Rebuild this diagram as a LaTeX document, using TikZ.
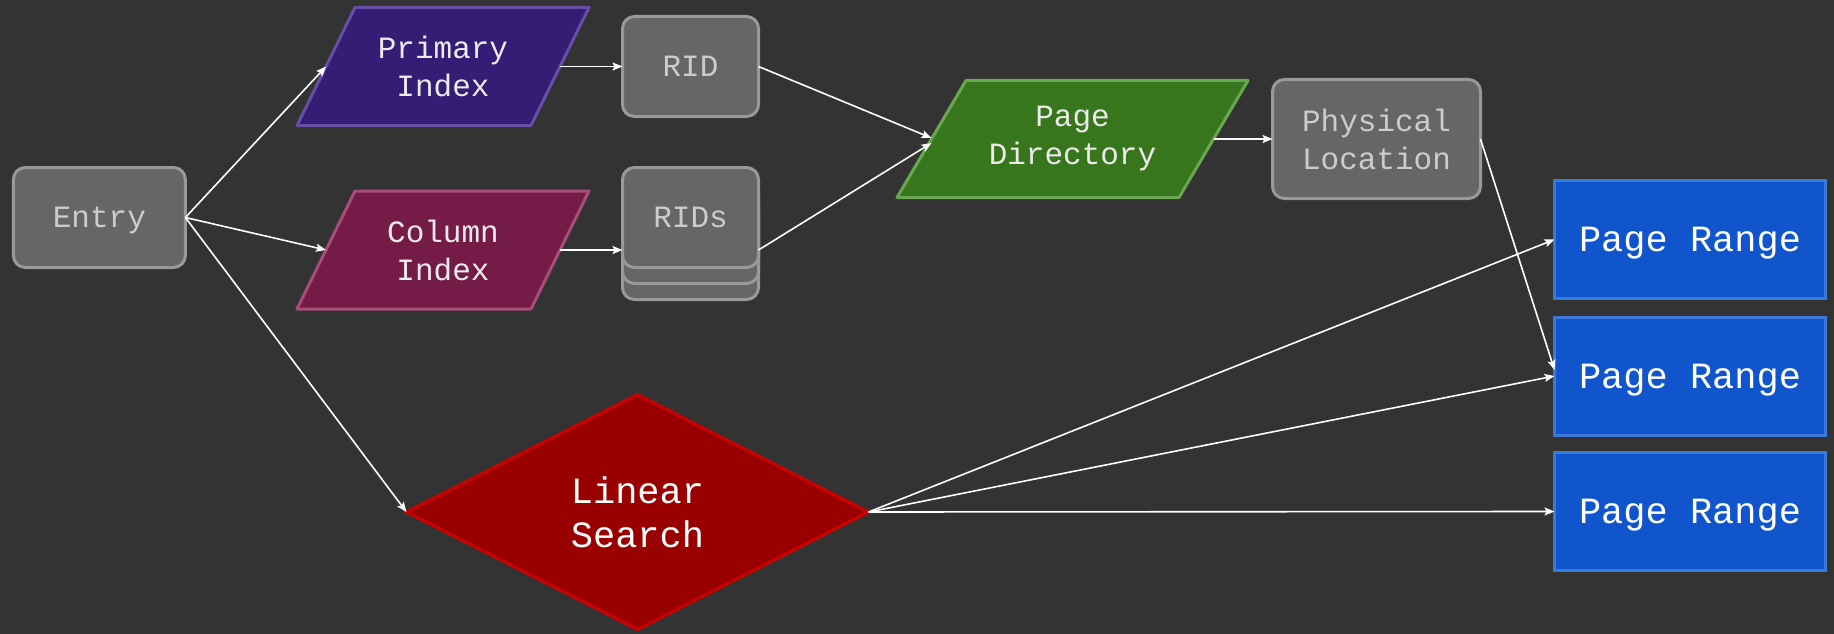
\documentclass[tikz,border=0pt]{standalone}
\usepackage{fontspec}
\setmonofont{Liberation Mono}
\usetikzlibrary{shapes.geometric,arrows.meta}
\definecolor{bg}{HTML}{333333}
\definecolor{boxgrey}{HTML}{666666}
\definecolor{edgegrey}{HTML}{999999}
\definecolor{textgrey}{HTML}{CCCCCC}
\definecolor{primfill}{HTML}{351C75}
\definecolor{primedge}{HTML}{674EA7}
\definecolor{colfill}{HTML}{741B47}
\definecolor{coledge}{HTML}{A64D79}
\definecolor{dirfill}{HTML}{38761D}
\definecolor{diredge}{HTML}{6AA84F}
\definecolor{searchfill}{HTML}{990000}
\definecolor{searchedge}{HTML}{CC0000}
\definecolor{rangefill}{HTML}{1155CC}
\definecolor{rangeedge}{HTML}{3C78D8}
\pgfdeclarelayer{back}
\pgfdeclarelayer{shapes}
\pgfsetlayers{back,shapes,main}
\begin{document}
\begin{tikzpicture}[x=1pt,y=-1pt,
  base/.style={line width=3pt, inner sep=0pt, outer sep=0pt, align=center,
    font=\ttfamily\fontsize{31}{38}\selectfont},
  greybox/.style={base, rectangle, rounded corners=12pt, fill=boxgrey, draw=edgegrey, text=textgrey},
  paratext/.style={base, rectangle, text=white!92!black},
  paraline/.style={line width=3pt, line join=round},
  rangebox/.style={base, rectangle, fill=rangefill, draw=rangeedge, text=white,
    font=\ttfamily\fontsize{37}{44}\selectfont, text depth=0pt,
    minimum width=271pt, minimum height=118pt},
  link/.style={draw=white, line width=1.6pt, -{Stealth[length=10pt,width=8pt,inset=2pt]}}
]
% background
\begin{pgfonlayer}{back}
\path[fill=bg] (0,0) rectangle (1834,634);
\end{pgfonlayer}

% entry point
\node[greybox, text depth=0pt, minimum width=172pt, minimum height=100pt] (entry) at (99.4,217.5) {Entry};

% indexes (text boxes span the parallelograms' mid-lines)
\node[paratext, minimum width=234pt, minimum height=118pt] (prim) at (443,66.5) {Primary\\Index};
\node[paratext, minimum width=234pt, minimum height=118pt] (col) at (443,250) {Column\\Index};

% row identifiers
\node[greybox, minimum width=136pt, minimum height=100pt] (rid) at (690.5,66.5) {RID};
\node[greybox, minimum width=136pt, minimum height=100pt] (rids3) at (690.5,249.5) {};
\node[greybox, minimum width=136pt, minimum height=100pt] (rids2) at (690.5,233.5) {};
\node[greybox, minimum width=136pt, minimum height=100pt] (rids) at (690.5,217.5) {RIDs};

% page directory and location
\node[paratext, minimum width=282pt, minimum height=117pt] (pd) at (1072.5,139) {Page\\Directory};
\node[greybox, minimum width=208pt, minimum height=119pt] (phys) at (1376.5,139) {Physical\\Location};

% parallelogram outlines behind the texts
\begin{pgfonlayer}{shapes}
\draw[paraline, fill=primfill, draw=primedge]
  ([xshift=29pt]prim.north west) -- ([xshift=29pt]prim.north east)
  -- ([xshift=-29pt]prim.south east) -- ([xshift=-29pt]prim.south west) -- cycle;
\draw[paraline, fill=colfill, draw=coledge]
  ([xshift=29pt]col.north west) -- ([xshift=29pt]col.north east)
  -- ([xshift=-29pt]col.south east) -- ([xshift=-29pt]col.south west) -- cycle;
\draw[paraline, fill=dirfill, draw=diredge]
  ([xshift=34.5pt]pd.north west) -- ([xshift=34.5pt]pd.north east)
  -- ([xshift=-34.5pt]pd.south east) -- ([xshift=-34.5pt]pd.south west) -- cycle;
\end{pgfonlayer}

% linear search
\node[base, diamond, fill=searchfill, draw=searchedge, text=white,
  font=\ttfamily\fontsize{37}{44}\selectfont,
  minimum width=462pt, minimum height=235pt] (ls) at (637.5,512) {Linear\\Search};

% page ranges
\node[rangebox] (pr1) at (1690,239.5) {Page Range};
\node[rangebox] (pr2) at (1690,376) {Page Range};
\node[rangebox] (pr3) at (1690,511.5) {Page Range};

% connectors
\draw[link] (entry.east) -- (prim.west);
\draw[link] (entry.east) -- (col.west);
\draw[link] (entry.east) -- (ls.west);
\draw[link] (prim.east) -- (rid.west);
\draw[link] (col.east) -- (col.east -| rids.west);
\draw[link] (rid.east) -- ([yshift=1pt]pd.west);
\draw[link] (rids.east |- col.east) -- ([yshift=-4pt]pd.west);
\draw[link] (pd.east) -- (phys.west);
\draw[link] (phys.east) -- ([yshift=6pt]pr2.west);
\draw[link] (ls.east) -- (pr1.west);
\draw[link] (ls.east) -- (pr2.west);
\draw[link] (ls.east) -- (pr3.west);
\end{tikzpicture}
\end{document}
